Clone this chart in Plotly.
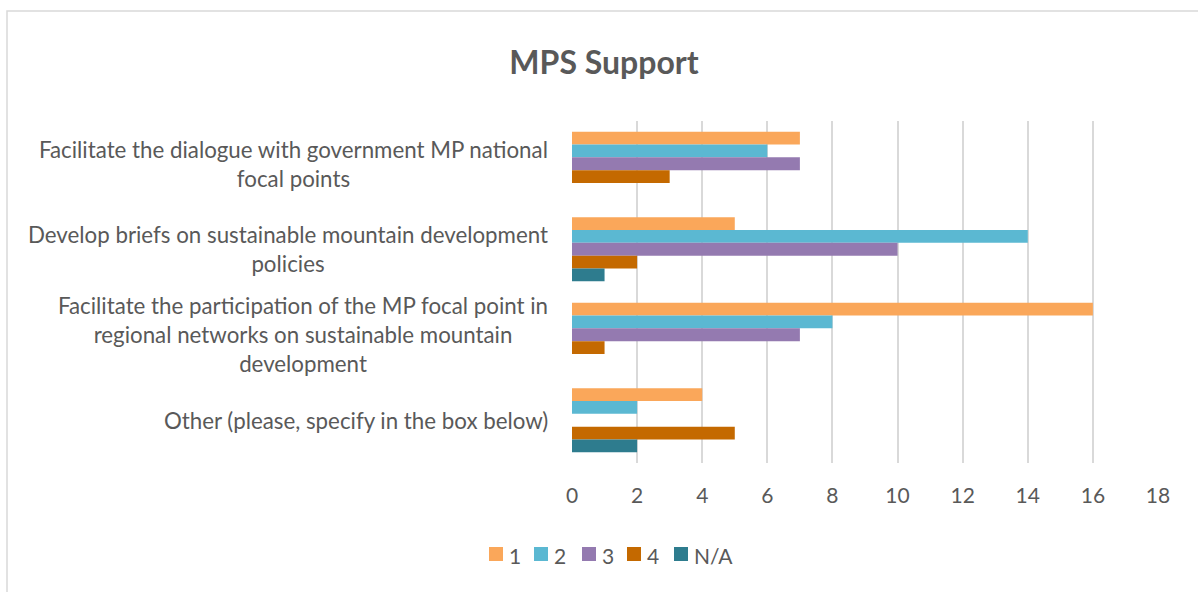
import plotly.graph_objects as go

# Survey results: number of responses per rating for each MPS support option
categories = [
    "Facilitate the dialogue with government MP national<br>focal points",
    "Develop briefs on sustainable mountain development<br>policies",
    "Facilitate the participation of the MP focal point in<br>regional networks on sustainable mountain<br>development",
    "Other (please, specify in the box below)",
]
series_names = ["1", "2", "3", "4", "N/A"]
values_1 = [7, 5, 16, 4]
values_2 = [6, 14, 8, 2]
values_3 = [7, 10, 7, 0]
values_4 = [3, 2, 1, 5]
values_na = [0, 1, 0, 2]
x_ticks = [0, 2, 4, 6, 8, 10, 12, 14, 16, 18]

series_values = [values_1, values_2, values_3, values_4, values_na]
colors = ["#FAA75A", "#5BB8D2", "#947AB0", "#C46900", "#2E7C8E"]

W, H = 1198, 592
L, R, T, B = 572, 40, 121, 129
pw = W - L - R
ph = H - T - B
font_family = "Lato, Open Sans, sans-serif"
text_color = "#595959"


def px_x(x):
    """Page pixel x -> paper coordinate."""
    return (x - L) / pw


def px_y(y):
    """Page pixel y -> paper coordinate."""
    return 1 - (y - T) / ph


fig = go.Figure()
for name, vals, col in zip(series_names, series_values, colors):
    fig.add_trace(go.Bar(
        y=list(range(len(categories))),
        x=vals,
        name=name,
        orientation="h",
        marker=dict(color=col, line=dict(width=0)),
    ))

# Category labels as centred multi-line text to the left of the plot area
for i, label in enumerate(categories):
    fig.add_annotation(
        x=0, xref="paper", y=i, yref="y",
        text=label, showarrow=False,
        xanchor="right", yanchor="middle", align="center",
        xshift=-22,
        font=dict(family=font_family, size=22.3, color=text_color),
    )

# Outer chart frame (only the top and left edges fall inside the page)
fig.add_shape(
    type="rect", xref="paper", yref="paper",
    x0=px_x(7), x1=px_x(W + 10), y0=px_y(H + 10), y1=px_y(11),
    line=dict(color="#D9D9D9", width=1.5), fillcolor="rgba(0,0,0,0)",
    layer="below",
)

# Compact legend row below the axis: square swatch followed by the series name
legend_left = [489, 534, 582, 627, 674]
swatch = 14
legend_cy = 554
for name, col, x0 in zip(series_names, colors, legend_left):
    fig.add_shape(
        type="rect", xref="paper", yref="paper",
        x0=px_x(x0), x1=px_x(x0 + swatch),
        y0=px_y(legend_cy + swatch / 2), y1=px_y(legend_cy - swatch / 2),
        line=dict(width=0), fillcolor=col,
    )
    fig.add_annotation(
        x=px_x(x0 + swatch + 4), xref="paper", y=px_y(legend_cy + 1), yref="paper",
        text=name, showarrow=False, xanchor="left", yanchor="middle",
        font=dict(family=font_family, size=21, color=text_color),
    )

fig.update_layout(
    width=W, height=H,
    margin=dict(l=L, r=R, t=T, b=B, pad=0),
    paper_bgcolor="white", plot_bgcolor="white",
    barmode="group", bargap=0.25, bargroupgap=0,
    title=dict(
        text="<b>MPS Support</b>",
        x=604 / W, xanchor="center", xref="container",
        y=1 - 63 / H, yanchor="middle", yref="container",
        font=dict(family=font_family, size=32, color=text_color),
    ),
    xaxis=dict(
        range=[0, 18], tickvals=x_ticks, ticktext=[str(t) for t in x_ticks],
        showgrid=True, gridcolor="#D9D9D9", gridwidth=2,
        zeroline=False, showline=False, ticks="",
        tickfont=dict(family=font_family, size=21, color=text_color),
        ticklabelstandoff=18,
    ),
    yaxis=dict(
        range=[len(categories) - 0.5, -0.5],
        showticklabels=False, showgrid=False, zeroline=False,
        showline=False, ticks="",
    ),
    showlegend=False,
)

fig.write_html("out.html")
